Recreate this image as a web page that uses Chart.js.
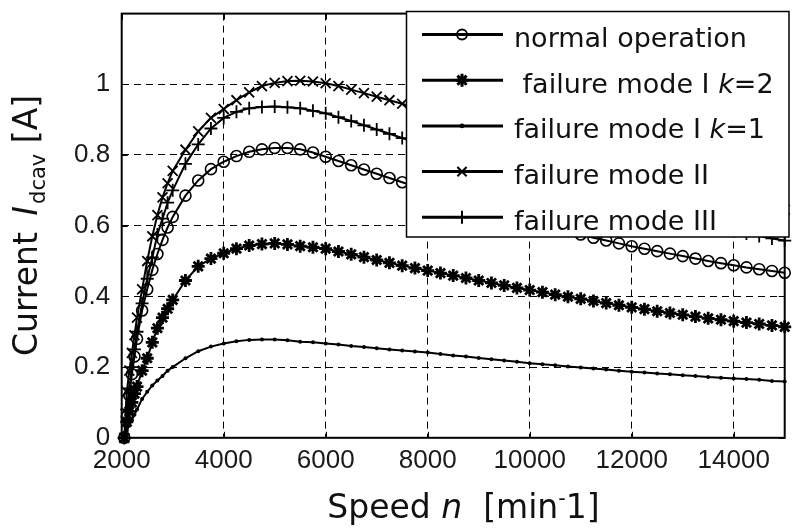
<!DOCTYPE html>
<html>
<head>
<meta charset="utf-8">
<script src="https://cdn.jsdelivr.net/npm/chart.js@4.4.1/dist/chart.umd.min.js"></script>
<style>
  html, body { margin: 0; padding: 0; background: #fff; }
</style>
</head>
<body>
<canvas id="currentChart" width="794" height="529"></canvas>
<script>
// speed n [min-1]
var speed = [2050, 2100, 2150, 2200, 2250, 2300, 2400, 2500, 2600, 2700, 2800, 2900, 3000,
  3250, 3500, 3750, 4000, 4250, 4500, 4750, 5000, 5250, 5500, 5750, 6000,
  6250, 6500, 6750, 7000, 7250, 7500, 7750, 8000, 8250, 8500, 8750, 9000,
  9250, 9500, 9750, 10000, 10250, 10500, 10750, 11000, 11250, 11500, 11750, 12000,
  12250, 12500, 12750, 13000, 13250, 13500, 13750, 14000, 14250, 14500, 14750, 15000];

// current I_dcav [A]
var normalOperation = [0, 0.06, 0.12, 0.18, 0.23, 0.28, 0.36, 0.42, 0.475, 0.52, 0.56, 0.595, 0.625,
  0.685, 0.728, 0.76, 0.781, 0.797, 0.809, 0.816, 0.82, 0.82, 0.816, 0.807, 0.795,
  0.783, 0.771, 0.759, 0.747, 0.735, 0.723, 0.711, 0.7, 0.689, 0.679, 0.668, 0.658,
  0.648, 0.638, 0.628, 0.615, 0.605, 0.595, 0.585, 0.575, 0.566, 0.558, 0.55, 0.542,
  0.535, 0.528, 0.521, 0.514, 0.507, 0.5, 0.494, 0.488, 0.482, 0.477, 0.472, 0.467];

var failureModeIk2 = [0, 0.045, 0.075, 0.1, 0.125, 0.145, 0.19, 0.225, 0.27, 0.31, 0.34, 0.365, 0.39,
  0.445, 0.485, 0.507, 0.522, 0.535, 0.544, 0.548, 0.55, 0.547, 0.542, 0.539, 0.535,
  0.527, 0.519, 0.511, 0.503, 0.495, 0.487, 0.48, 0.473, 0.466, 0.459, 0.452, 0.445,
  0.438, 0.431, 0.424, 0.418, 0.412, 0.405, 0.399, 0.393, 0.387, 0.381, 0.375, 0.369,
  0.364, 0.358, 0.353, 0.348, 0.343, 0.338, 0.334, 0.33, 0.326, 0.322, 0.318, 0.314];

var failureModeIk1 = [0, 0.02, 0.035, 0.05, 0.065, 0.08, 0.11, 0.13, 0.148, 0.162, 0.175, 0.19, 0.2,
  0.225, 0.245, 0.258, 0.267, 0.273, 0.277, 0.278, 0.278, 0.276, 0.272, 0.27, 0.267,
  0.264, 0.26, 0.257, 0.253, 0.25, 0.247, 0.244, 0.241, 0.237, 0.233, 0.23, 0.226,
  0.222, 0.219, 0.215, 0.211, 0.208, 0.205, 0.202, 0.199, 0.196, 0.193, 0.19, 0.187,
  0.185, 0.182, 0.18, 0.177, 0.175, 0.172, 0.17, 0.168, 0.166, 0.164, 0.161, 0.159];

var failureModeII = [0, 0.13, 0.19, 0.24, 0.29, 0.34, 0.42, 0.5, 0.57, 0.63, 0.68, 0.72, 0.755,
  0.815, 0.867, 0.905, 0.93, 0.955, 0.977, 0.995, 1.004, 1.009, 1.01, 1.008, 1.003,
  0.995, 0.985, 0.975, 0.965, 0.955, 0.945, 0.933, 0.922, 0.911, 0.9, 0.889, 0.878,
  0.867, 0.856, 0.845, 0.834, 0.823, 0.812, 0.802, 0.792, 0.782, 0.772, 0.762, 0.752,
  0.742, 0.732, 0.722, 0.713, 0.704, 0.695, 0.686, 0.677, 0.668, 0.66, 0.652, 0.645];

var failureModeIII = [0, 0.08, 0.14, 0.2, 0.25, 0.3, 0.38, 0.45, 0.51, 0.575, 0.62, 0.665, 0.7,
  0.775, 0.83, 0.875, 0.905, 0.922, 0.932, 0.936, 0.937, 0.935, 0.932, 0.925, 0.918,
  0.907, 0.896, 0.884, 0.872, 0.86, 0.848, 0.836, 0.824, 0.813, 0.802, 0.791, 0.78,
  0.768, 0.757, 0.746, 0.735, 0.724, 0.713, 0.702, 0.692, 0.682, 0.672, 0.662, 0.652,
  0.643, 0.634, 0.625, 0.616, 0.608, 0.6, 0.592, 0.585, 0.578, 0.571, 0.564, 0.558];

var seriesNames = ['normal operation', ' failure mode I k=2', 'failure mode I k=1', 'failure mode II', 'failure mode III'];
var seriesMarkers = ['o', '*', '.', 'x', '+'];
var xTicks = [2000, 4000, 6000, 8000, 10000, 12000, 14000];
var yTicks = [0, 0.2, 0.4, 0.6, 0.8, 1];

var TEXT_FONT = "'DejaVu Sans', 'Liberation Sans', sans-serif";
var TICK_FONT = "'Liberation Sans', Arial, sans-serif";

function points(values) {
  return values.map(function (v, i) { return { x: speed[i], y: v }; });
}

// chart.js point style for each matlab marker
var markerStyle = {
  'o': { pointStyle: 'circle', pointRadius: 5.5, pointBorderWidth: 1.6, pointBackgroundColor: 'rgba(0,0,0,0)' },
  '*': { pointStyle: 'star', pointRadius: 6.5, pointBorderWidth: 2.8, pointBackgroundColor: '#000' },
  '.': { pointStyle: 'circle', pointRadius: 2, pointBorderWidth: 0, pointBackgroundColor: '#000' },
  'x': { pointStyle: 'crossRot', pointRadius: 7, pointBorderWidth: 1.8, pointBackgroundColor: '#000' },
  '+': { pointStyle: 'cross', pointRadius: 6.5, pointBorderWidth: 1.8, pointBackgroundColor: '#000' }
};

var allValues = [normalOperation, failureModeIk2, failureModeIk1, failureModeII, failureModeIII];
var datasets = allValues.map(function (vals, i) {
  var ds = {
    label: seriesNames[i],
    data: points(vals),
    borderColor: '#000',
    borderWidth: 2,
    pointBorderColor: '#000',
    tension: 0,
    clip: false
  };
  Object.assign(ds, markerStyle[seriesMarkers[i]]);
  return ds;
});

function drawMarker(ctx, kind, x, y) {
  ctx.save();
  ctx.strokeStyle = '#000';
  ctx.fillStyle = '#000';
  ctx.beginPath();
  if (kind === 'o') {
    ctx.lineWidth = 1.8;
    ctx.arc(x, y, 5, 0, Math.PI * 2);
    ctx.stroke();
  } else if (kind === '.') {
    ctx.arc(x, y, 2.4, 0, Math.PI * 2);
    ctx.fill();
  } else {
    var r = 6.5;
    ctx.lineWidth = kind === '*' ? 3 : 2;
    if (kind === '+' || kind === '*') {
      ctx.moveTo(x - r, y); ctx.lineTo(x + r, y);
      ctx.moveTo(x, y - r); ctx.lineTo(x, y + r);
    }
    if (kind === 'x' || kind === '*') {
      var d = r * 0.707;
      ctx.moveTo(x - d, y - d); ctx.lineTo(x + d, y + d);
      ctx.moveTo(x - d, y + d); ctx.lineTo(x + d, y - d);
    }
    ctx.stroke();
  }
  ctx.restore();
}

// draws a row of text pieces, returns total width
function textRow(ctx, parts, x, baseline, measureOnly) {
  var total = 0;
  parts.forEach(function (p) {
    ctx.font = p.font;
    p.w = ctx.measureText(p.text).width;
    if (!measureOnly) ctx.fillText(p.text, x + total, baseline + (p.dy || 0));
    total += p.w + (p.gap || 0);
  });
  return total;
}

var matlabFrame = {
  id: 'matlabFrame',
  afterDraw: function (chart) {
    var ctx = chart.ctx;
    var a = chart.chartArea;
    var xs = chart.scales.x, ys = chart.scales.y;
    ctx.save();
    ctx.strokeStyle = '#000';

    // inner ticks
    ctx.lineWidth = 1;
    ctx.beginPath();
    xTicks.forEach(function (v) {
      var px = Math.round(xs.getPixelForValue(v)) + 0.5;
      ctx.moveTo(px, a.bottom); ctx.lineTo(px, a.bottom - 6);
      ctx.moveTo(px, a.top); ctx.lineTo(px, a.top + 6);
    });
    yTicks.forEach(function (v) {
      var py = Math.round(ys.getPixelForValue(v)) + 0.5;
      ctx.moveTo(a.left, py); ctx.lineTo(a.left + 6, py);
      ctx.moveTo(a.right, py); ctx.lineTo(a.right - 6, py);
    });
    ctx.stroke();

    // axes box
    ctx.lineWidth = 2;
    ctx.strokeRect(a.left, a.top, a.right - a.left, a.bottom - a.top);

    // legend
    var lx = 406.5, ly = 11.5, lw = 382.5, lh = 225.5;
    ctx.fillStyle = '#fff';
    ctx.fillRect(lx, ly, lw, lh);
    ctx.lineWidth = 1.5;
    ctx.strokeRect(lx, ly, lw, lh);
    ctx.fillStyle = '#111';
    ctx.textBaseline = 'alphabetic';
    ctx.textAlign = 'left';
    var norm = '27px ' + TEXT_FONT, ital = 'italic 27px ' + TEXT_FONT;
    seriesNames.forEach(function (name, i) {
      var cy = 34.5 + i * 45.7;
      ctx.lineWidth = 3;
      ctx.beginPath();
      ctx.moveTo(422, cy); ctx.lineTo(503, cy);
      ctx.stroke();
      drawMarker(ctx, seriesMarkers[i], 462, cy);
      var k = name.indexOf('k=');
      var parts = k < 0 ? [{ text: name, font: norm }] :
        [{ text: name.slice(0, k), font: norm }, { text: 'k', font: ital }, { text: name.slice(k + 1), font: norm }];
      textRow(ctx, parts, 514, cy + 12.5);
    });

    // x axis title
    var big = '33px ' + TEXT_FONT;
    var xParts = [
      { text: 'Speed ', font: big },
      { text: 'n', font: 'italic 33px ' + TEXT_FONT },
      { text: '  [min', font: big },
      { text: '-', font: '21px ' + TEXT_FONT, dy: -13 },
      { text: '1]', font: big }
    ];
    var w = textRow(ctx, xParts, 0, 0, true);
    textRow(ctx, xParts, 463.5 - w / 2, 518);

    // y axis title
    var yParts = [
      { text: 'Current ', font: big, gap: 6 },
      { text: 'I', font: 'italic 33px ' + TEXT_FONT, gap: 2 },
      { text: 'dcav', font: '21px ' + TEXT_FONT, dy: 8 },
      { text: ' [A]', font: big }
    ];
    ctx.translate(37, 225.5);
    ctx.rotate(-Math.PI / 2);
    w = textRow(ctx, yParts, 0, 0, true);
    textRow(ctx, yParts, -w / 2, 0);
    ctx.restore();
  }
};

var ctx = document.getElementById('currentChart').getContext('2d');
var currentChart = new Chart(ctx, {
  type: 'line',
  data: { datasets: datasets },
  options: {
    responsive: false,
    animation: false,
    events: [],
    layout: { padding: { left: 0, right: 7.3, top: 13.6, bottom: 0 } },
    plugins: { legend: { display: false }, tooltip: { enabled: false } },
    scales: {
      x: {
        type: 'linear',
        min: 2000,
        max: 15000,
        afterBuildTicks: function (scale) {
          scale.ticks = xTicks.map(function (v) { return { value: v }; });
        },
        afterFit: function (scale) {
          scale.height = 91.2;
          scale.paddingLeft = 0;
          scale.paddingRight = 0;
        },
        grid: { color: '#000', lineWidth: 1, drawTicks: false },
        border: { display: false, dash: [7, 5] },
        ticks: {
          color: '#1a1a1a',
          font: { family: TICK_FONT, size: 26 },
          padding: 7,
          maxRotation: 0,
          autoSkip: false,
          callback: function (v) { return String(v); }
        }
      },
      y: {
        type: 'linear',
        min: 0,
        max: 1.2,
        afterBuildTicks: function (scale) {
          scale.ticks = yTicks.map(function (v) { return { value: v }; });
        },
        afterFit: function (scale) {
          scale.width = 121.7;
          scale.paddingTop = 0;
          scale.paddingBottom = 0;
        },
        grid: { color: '#000', lineWidth: 1, drawTicks: false },
        border: { display: false, dash: [7, 5] },
        ticks: {
          color: '#1a1a1a',
          font: { family: TICK_FONT, size: 26 },
          padding: 11.5,
          autoSkip: false,
          callback: function (v) { return String(Math.round(v * 10) / 10); }
        }
      }
    }
  },
  plugins: [matlabFrame]
});
</script>
</body>
</html>
